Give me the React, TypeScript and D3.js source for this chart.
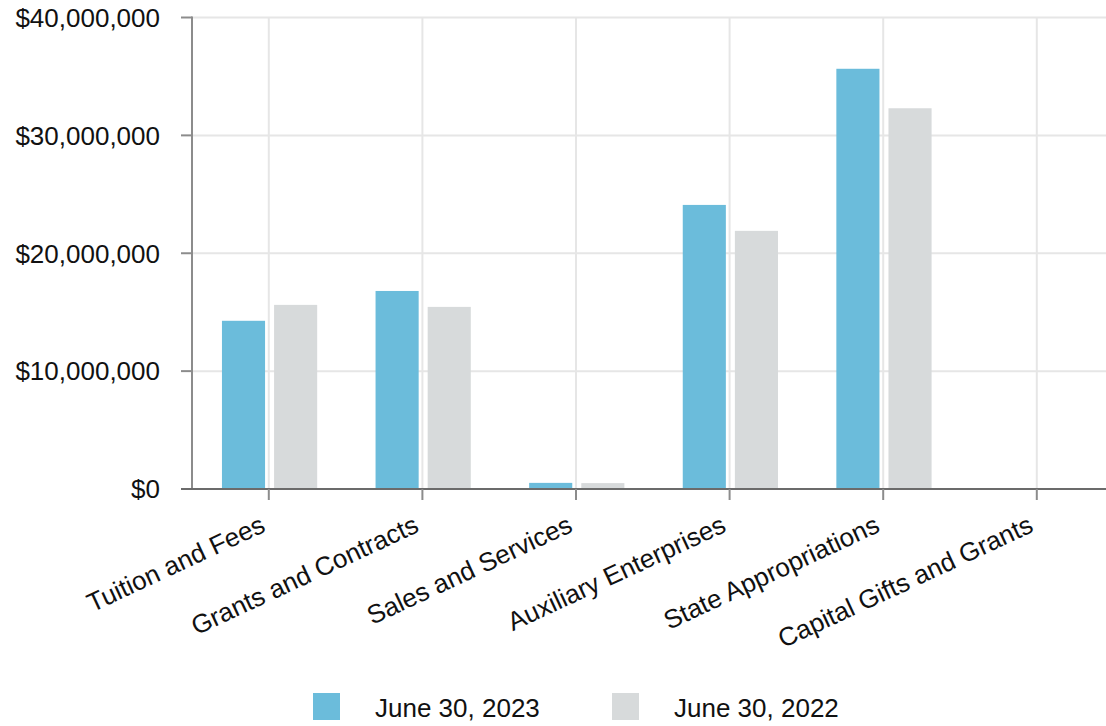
import React from "react";
import * as d3 from "d3";

const categories = [
  "Tuition and Fees",
  "Grants and Contracts",
  "Sales and Services",
  "Auxiliary Enterprises",
  "State Appropriations",
  "Capital Gifts and Grants",
];
const seriesNames = ["June 30, 2023", "June 30, 2022"];
const values2023 = [14270000, 16800000, 520000, 24100000, 35650000, 0];
const values2022 = [15620000, 15450000, 500000, 21900000, 32300000, 0];
const yTicks = [0, 10000000, 20000000, 30000000, 40000000];

const W = 1106;
const H = 726;
const colors = ["#6bbcdb", "#d7dadb"];
const FONT = "'Liberation Sans', Arial, sans-serif";

export default function App() {
  const left = 192;
  const right = left + 153.6 * categories.length;
  const top = 17.5;
  const bottom = 489;

  const x = d3.scaleBand<string>().domain(categories).range([left, right]).padding(0);
  const bw = x.bandwidth();
  const inner = d3
    .scaleBand<string>()
    .domain(seriesNames)
    .range([bw * 0.195, bw * 0.815])
    .paddingInner(0.173)
    .paddingOuter(0);
  const y = d3.scaleLinear().domain([0, 40000000]).range([bottom, top]);
  const fmt = (v: number) => "$" + d3.format(",")(v);
  const series = [values2023, values2022];

  return (
    <svg
      width={W}
      height={H}
      style={{ position: "absolute", left: 0, top: 0, background: "#fff" }}
      fontFamily={FONT}
    >
      {/* horizontal gridlines */}
      {yTicks.map((t) => (
        <line key={"h" + t} x1={left} x2={right} y1={y(t)} y2={y(t)} stroke="#e6e6e6" strokeWidth={2} />
      ))}
      {/* vertical gridlines at category centres */}
      {categories.map((c) => (
        <line
          key={"v" + c}
          x1={x(c)! + bw / 2}
          x2={x(c)! + bw / 2}
          y1={top}
          y2={bottom}
          stroke="#e6e6e6"
          strokeWidth={2}
        />
      ))}
      {/* bars */}
      {series.map((vals, si) =>
        categories.map((c, ci) => (
          <rect
            key={si + "-" + c}
            x={x(c)! + inner(seriesNames[si])!}
            y={y(vals[ci])}
            width={inner.bandwidth()}
            height={bottom - y(vals[ci])}
            fill={colors[si]}
          />
        ))
      )}
      {/* y axis */}
      <line x1={left} x2={left} y1={top - 1} y2={bottom} stroke="#8c8c8c" strokeWidth={2} />
      {yTicks.map((t) => (
        <g key={"yt" + t}>
          <line x1={left - 11} x2={left} y1={y(t)} y2={y(t)} stroke="#8c8c8c" strokeWidth={2} />
          <text x={160} y={y(t)} dy="0.36em" textAnchor="end" fontSize={26} fill="#111">
            {fmt(t)}
          </text>
        </g>
      ))}
      {/* x axis */}
      <line x1={left - 11} x2={right} y1={bottom} y2={bottom} stroke="#6b6b6b" strokeWidth={2} />
      {categories.map((c) => {
        const cx = x(c)! + bw / 2;
        return (
          <g key={"xt" + c}>
            <line x1={cx} x2={cx} y1={bottom} y2={bottom + 11} stroke="#8c8c8c" strokeWidth={2} />
            <text
              transform={`translate(${cx - 2},${531}) rotate(-25)`}
              textAnchor="end"
              fontSize={26}
              fill="#111"
            >
              {c}
            </text>
          </g>
        );
      })}
      {/* legend */}
      {seriesNames.map((s, i) => {
        const lx = 313 + i * 299;
        return (
          <g key={"lg" + s}>
            <rect x={lx} y={693} width={27} height={27} fill={colors[i]} />
            <text x={lx + 62} y={717} fontSize={26} fill="#111">
              {s}
            </text>
          </g>
        );
      })}
    </svg>
  );
}
